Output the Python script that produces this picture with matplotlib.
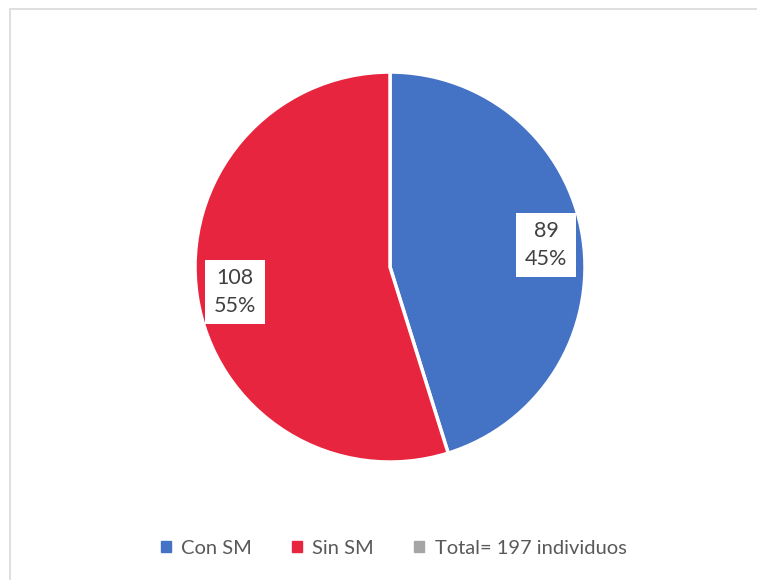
import matplotlib.pyplot as plt
from matplotlib.patches import Patch, Rectangle

plt.rcParams['font.family'] = ['Lato', 'DejaVu Sans']

categories = ['Con SM', 'Sin SM']
values = [89, 108]
total_label = 'Total= 197 individuos'
colors = ['#4472C4', '#E8253F']
total_color = '#A5A5A5'

fig = plt.figure(figsize=(7.57, 5.80), dpi=100)

# light frame like the office chart area
fig.patches.append(Rectangle((10 / 757, -0.01), 1.0, 1 - 9 / 580 + 0.01,
                             transform=fig.transFigure, fill=False,
                             edgecolor='#D9D9D9', lw=1.2))

ax = fig.add_axes([0.2576, 0.2034, 0.5152, 0.6724])
total = sum(values)
wedges, _ = ax.pie(values, colors=colors, startangle=90, counterclock=False,
                   radius=1.0, wedgeprops=dict(edgecolor='white', linewidth=2.5))
ax.set_xlim(-1, 1)
ax.set_ylim(-1, 1)
ax.set_aspect('equal')
ax.axis('off')

label_pos = [(0.80, 0.113), (-0.795, -0.128)]
for v, (x, y) in zip(values, label_pos):
    ax.text(x, y, f'{v}\n{round(100 * v / total)}%', ha='center', va='center',
            fontsize=15.5, color='#404040', linespacing=1.45,
            bbox=dict(boxstyle='square,pad=0.4', fc='white', ec='none'))

handles = [Patch(color=c) for c in colors] + [Patch(color=total_color)]
labels = categories + [total_label]
fig.legend(handles, labels, loc='center', bbox_to_anchor=(0.52, 1 - 548 / 580),
           ncol=3, frameon=False, fontsize=14.5, labelcolor='#595959',
           handlelength=0.5, handleheight=0.5, handletextpad=0.5, columnspacing=2.0)

fig.savefig('out.png', dpi=100, facecolor='white')
